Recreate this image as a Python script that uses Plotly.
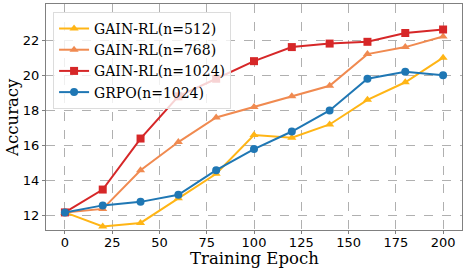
import plotly.graph_objects as go

epochs = [0, 20, 40, 60, 80, 100, 120, 140, 160, 180, 200]
gain_512 = [12.2, 11.4, 11.6, 13.0, 14.4, 16.6, 16.45, 17.2, 18.6, 19.6, 21.0]
gain_768 = [12.2, 12.4, 14.6, 16.2, 17.6, 18.2, 18.8, 19.4, 21.2, 21.6, 22.2]
gain_1024 = [12.2, 13.5, 16.4, 18.8, 19.8, 20.8, 21.6, 21.8, 21.9, 22.4, 22.6]
grpo_1024 = [12.2, 12.6, 12.8, 13.2, 14.6, 15.8, 16.8, 18.0, 19.8, 20.2, 20.0]

x_ticks = [0, 25, 50, 75, 100, 125, 150, 175, 200]
y_ticks = [12, 14, 16, 18, 20, 22]

series = [
    ("GAIN-RL(n=512)", gain_512, "#FFB515", "triangle-up"),
    ("GAIN-RL(n=768)", gain_768, "#F08A50", "triangle-up"),
    ("GAIN-RL(n=1024)", gain_1024, "#D62728", "square"),
    ("GRPO(n=1024)", grpo_1024, "#1F77B4", "circle"),
]

fig = go.Figure()
for name, vals, color, sym in series:
    fig.add_trace(go.Scatter(
        x=epochs, y=vals, name=name, mode="lines+markers",
        line=dict(color=color, width=2),
        marker=dict(color=color, symbol=sym, size=8),
    ))

axis_common = dict(
    showgrid=True, gridcolor="#b0b0b0", griddash="dash", gridwidth=1.2,
    showline=True, linecolor="#808080", linewidth=1.2, mirror=True,
    ticks="outside", ticklen=3, tickcolor="#808080",
    tickfont=dict(family="DejaVu Sans", size=13, color="black"),
    zeroline=False, automargin=False,
)

fig.update_layout(
    width=468, height=273,
    margin=dict(l=46, r=6, t=4, b=43),
    paper_bgcolor="white", plot_bgcolor="white",
    xaxis=dict(range=[-10, 210], tickvals=x_ticks, ticklabelstandoff=-3, **axis_common),
    yaxis=dict(range=[11.2, 24.05], tickvals=y_ticks, **axis_common),
    legend=dict(x=0.017, y=0.965, xanchor="left", yanchor="top",
                bgcolor="rgba(255,255,255,0.8)", bordercolor="#dcdcdc", borderwidth=1,
                font=dict(family="DejaVu Serif", size=14, color="black"),
                tracegroupgap=0),
    showlegend=True,
    annotations=[
        dict(text="Training Epoch", xref="paper", yref="paper", x=0.5, y=-0.075,
             xanchor="center", yanchor="top", showarrow=False,
             font=dict(family="DejaVu Serif", size=16.5, color="black")),
        dict(text="Accuracy", xref="paper", yref="paper", x=-0.082, y=0.5,
             xanchor="center", yanchor="middle", textangle=-90, showarrow=False,
             font=dict(family="DejaVu Serif", size=16.5, color="black")),
    ],
)

fig.write_html("out.html", config={"displayModeBar": False},
               post_script="document.body.style.margin='0';")
